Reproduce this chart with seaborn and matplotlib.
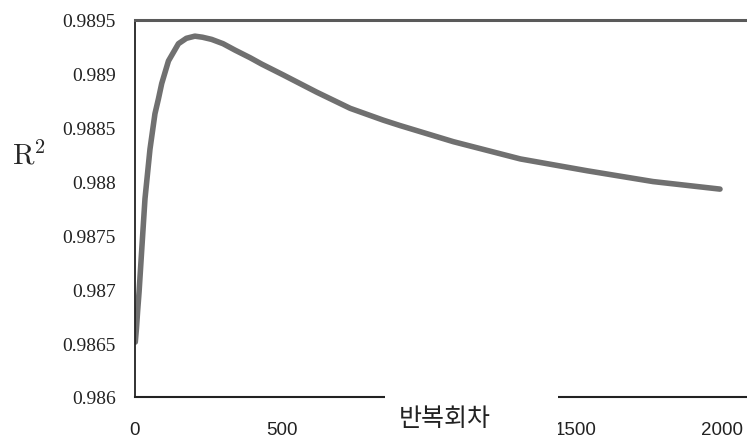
import numpy as np
import pandas as pd
import matplotlib
matplotlib.use('Agg')
import matplotlib.pyplot as plt
import seaborn as sns
from matplotlib.patches import Rectangle

# values
iterations = [1, 5, 9, 14, 23, 34, 51, 68, 80, 91, 114, 148, 175, 204, 230, 261,
              300, 341, 392, 432, 505, 619, 733, 846, 903, 1085, 1313, 1541,
              1765, 1993]
r_squared = [0.98651, 0.98664, 0.98680, 0.98698, 0.98737, 0.98784, 0.98830,
             0.98863, 0.98877, 0.98891, 0.98912, 0.98928, 0.98933, 0.98935,
             0.98934, 0.98932, 0.98928, 0.98922, 0.98915, 0.98909, 0.98899,
             0.98883, 0.98868, 0.98857, 0.98852, 0.98837, 0.98821, 0.98810,
             0.98800, 0.98793]

xticks = [0, 500, 1000, 1500, 2000]
xtick_labels = ['0', '500', '', '1500', '2000']  # 1000 sits under the x label box
yticks = [0.986, 0.9865, 0.987, 0.9875, 0.988, 0.9885, 0.989, 0.9895]
ytick_labels = ['0.986', '0.9865', '0.987', '0.9875', '0.988', '0.9885', '0.989', '0.9895']

df = pd.DataFrame({'iter': iterations, 'r2': r_squared})

sns.set_style('white')
plt.rcParams['font.family'] = ['Noto Sans CJK KR', 'DejaVu Sans']
plt.rcParams['mathtext.fontset'] = 'cm'

W, H = 747, 439
fig = plt.figure(figsize=(W / 100, H / 100), dpi=100)
ax = fig.add_axes([135 / W, 1 - 398 / H, (W - 135) / W, (398 - 21) / H])

sns.lineplot(data=df, x='iter', y='r2', ax=ax, color='#707070', linewidth=4.0)

ax.set_xlim(0, 2085)
ax.set_ylim(0.986, 0.9895)
ax.set_xticks(xticks)
ax.set_xticklabels(xtick_labels, family='Liberation Sans', fontsize=13.5, color='#222222')
ax.set_yticks(yticks)
ax.set_yticklabels(ytick_labels, family='Liberation Serif', fontsize=14, color='#222222')
ax.tick_params(axis='both', direction='in', length=5, width=1.2, color='#222222')
ax.tick_params(axis='x', pad=17)
ax.tick_params(axis='y', pad=14)
ax.set_xlabel('')
ax.set_ylabel('')

ax.spines['right'].set_visible(False)
ax.spines['left'].set_color('#222222')
ax.spines['left'].set_linewidth(1.3)
ax.spines['bottom'].set_color('#222222')
ax.spines['bottom'].set_linewidth(1.5)
ax.spines['top'].set_color('#5a5a5a')
ax.spines['top'].set_linewidth(2.2)

# R^2 label on the left
fig.text(12 / W, 1 - 165 / H, r'$\mathrm{R}^2$', fontsize=21, ha='left', va='baseline')

# white box over the axis holding the x label
fig.add_artist(Rectangle((385 / W, 0), (558 - 385) / W, 1 - 396 / H,
                         transform=fig.transFigure, facecolor='white',
                         edgecolor='none', zorder=5))
fig.text(445 / W, 1 - 419 / H, '반복회차', fontsize=18, ha='center', va='center',
         color='#222222', zorder=6)

fig.savefig('out.png', dpi=100)
